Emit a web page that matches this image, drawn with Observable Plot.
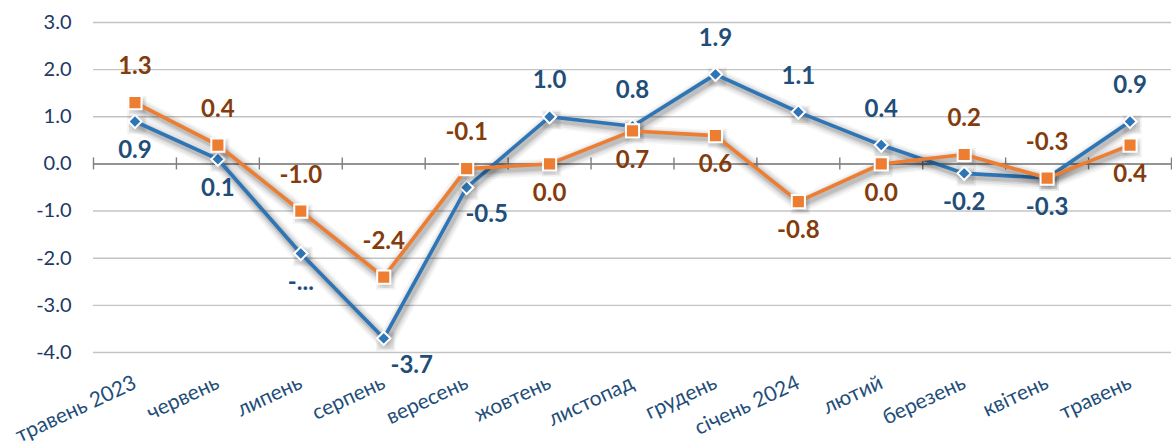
<!DOCTYPE html>
<html>
<head>
<meta charset="utf-8">
<script src="https://cdn.jsdelivr.net/npm/d3@7"></script>
<script src="https://cdn.jsdelivr.net/npm/@observablehq/plot@0.6"></script>
<style>
  body { margin: 0; background: #fff; }
  #chart svg { font-family: Lato, "Open Sans", sans-serif; }
</style>
</head>
<body>
<div id="chart"></div>
<script>
const months = ["травень 2023","червень","липень","серпень","вересень","жовтень","листопад","грудень","січень 2024","лютий","березень","квітень","травень"];
const seriesBlue = [0.9, 0.1, -1.9, -3.7, -0.5, 1.0, 0.8, 1.9, 1.1, 0.4, -0.2, -0.3, 0.9];
const seriesOrange = [1.3, 0.4, -1.0, -2.4, -0.1, 0.0, 0.7, 0.6, -0.8, 0.0, 0.2, -0.3, 0.4];
const blueLabels = ["0.9","0.1","-...","-3.7","-0.5","1.0","0.8","1.9","1.1","0.4","-0.2","-0.3","0.9"];
const orangeLabels = ["1.3","0.4","-1.0","-2.4","-0.1","0.0","0.7","0.6","-0.8","0.0","0.2","-0.3","0.4"];
const yTicks = [-4, -3, -2, -1, 0, 1, 2, 3];

const rows = months.map((m, i) => ({
  idx: i, month: m, pos: i + 0.5,
  blue: seriesBlue[i], orange: seriesOrange[i],
  blueLabel: blueLabels[i], orangeLabel: orangeLabels[i]
}));
const fmt = d => d.toFixed(1);
const BLUE = "#2e75b6", ORANGE = "#ed7d31";
const BLUE_TXT = "#1f4e79", ORANGE_TXT = "#843c0c";

// soft shadow made of layered translucent strokes and squares
function softShadow(key) {
  const layers = [[17, 0.04], [13, 0.06], [9, 0.08], [6, 0.1]];
  const lines = layers.map(([w, o]) => Plot.line(rows, {
    x: "pos", y: key, stroke: "#000", strokeOpacity: o, strokeWidth: w,
    strokeLinejoin: "round", strokeLinecap: "round", dx: 2, dy: 3
  }));
  const dots = [[11, 0.05], [9, 0.07]].map(([r, o]) => Plot.dot(rows, {
    x: "pos", y: key, symbol: "square", r, fill: "#000", fillOpacity: o, dx: 2, dy: 3
  }));
  return [...lines, ...dots];
}

// a few data labels are nudged sideways as in the original
const blueNudge = new Map([[3, 28], [4, 20]]);
const labelText = (data, key, txt, dy, fill, dx = 0) =>
  Plot.text(data, { x: "pos", y: key, text: txt, dy, dx, fontSize: 24, fontWeight: "bold", fill });

const blueBelow = rows.filter(d => !(d.blue > d.orange));
const orangeAbove = d => d.orange >= d.blue;

const chart = Plot.plot({
  width: 1172,
  height: 445,
  marginLeft: 93,
  marginRight: 1,
  marginTop: 22,
  marginBottom: 93,
  x: { type: "linear", domain: [0, months.length] },
  y: { domain: [-4, 3] },
  style: { fontFamily: "Lato, 'Open Sans', sans-serif", background: "white" },
  marks: [
    Plot.gridY(yTicks, { stroke: "#c4c4c4", strokeOpacity: 1, strokeWidth: 1.4 }),
    Plot.axisY(yTicks, { tickSize: 0, tickPadding: 22, tickFormat: fmt, fontSize: 20, color: "#203864", label: null }),
    Plot.axisX(rows.map(d => d.pos), {
      tickSize: 0, tickPadding: 29, tickRotate: -25, fontSize: 21, color: BLUE_TXT, label: null,
      tickFormat: p => months[Math.floor(p)]
    }),
    Plot.ruleY([0], { stroke: "#7f7f7f", strokeWidth: 1.6 }),
    Plot.ruleX(d3.range(0, months.length + 1), { y1: 0, y2: 0, insetTop: -6, insetBottom: -6, stroke: "#7f7f7f", strokeWidth: 1.4 }),
    ...softShadow("blue"),
    Plot.line(rows, { x: "pos", y: "blue", stroke: BLUE, strokeWidth: 3.6 }),
    Plot.dot(rows, { x: "pos", y: "blue", symbol: "diamond2", r: 6, fill: BLUE, stroke: "white", strokeWidth: 2 }),
    ...softShadow("orange"),
    Plot.line(rows, { x: "pos", y: "orange", stroke: ORANGE, strokeWidth: 3.6 }),
    Plot.dot(rows, { x: "pos", y: "orange", symbol: "square", r: 7.4, fill: ORANGE, stroke: "white", strokeWidth: 2 }),
    labelText(rows.filter(d => d.blue > d.orange), "blue", "blueLabel", -36, BLUE_TXT),
    labelText(blueBelow.filter(d => !blueNudge.has(d.idx)), "blue", "blueLabel", 29, BLUE_TXT),
    ...[...blueNudge].map(([i, dx]) => labelText(blueBelow.filter(d => d.idx === i), "blue", "blueLabel", 27, BLUE_TXT, dx)),
    labelText(rows.filter(orangeAbove), "orange", "orangeLabel", -36, ORANGE_TXT),
    labelText(rows.filter(d => !orangeAbove(d)), "orange", "orangeLabel", 29, ORANGE_TXT)
  ]
});

document.getElementById("chart").appendChild(chart);
</script>
</body>
</html>
